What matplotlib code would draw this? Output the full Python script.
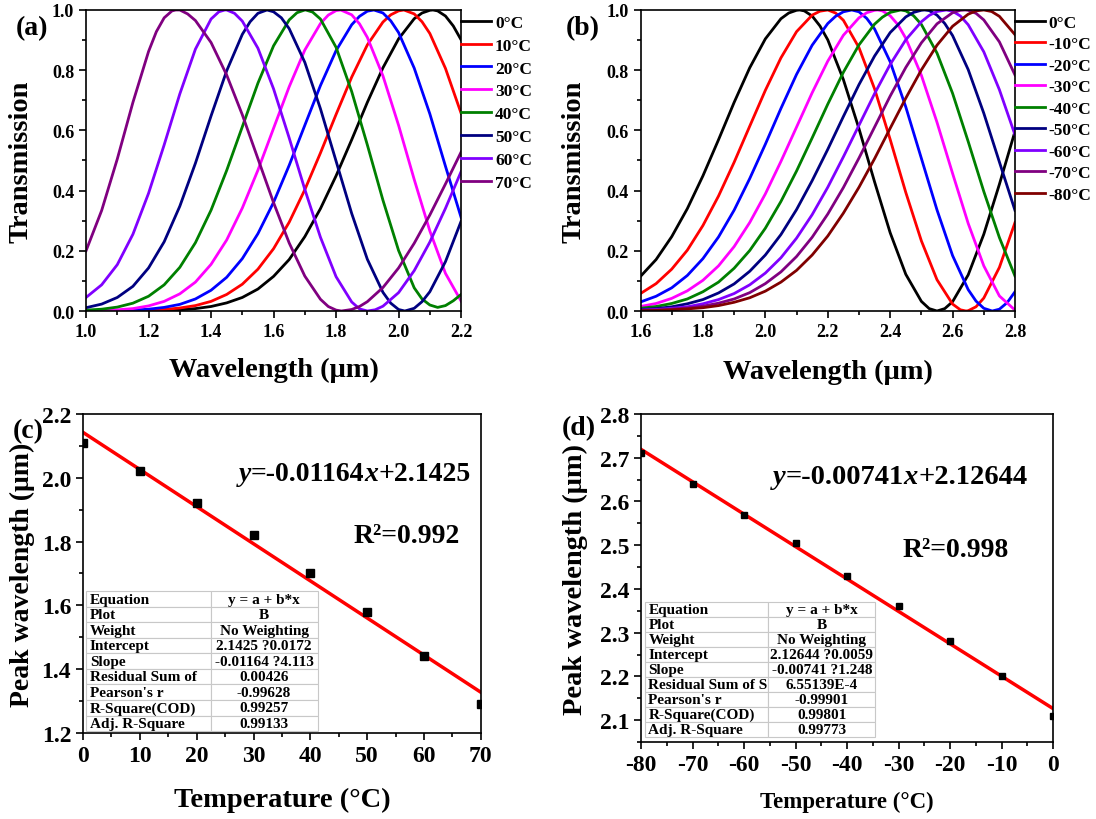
import numpy as np
import matplotlib.pyplot as plt
from matplotlib.ticker import MultipleLocator
from matplotlib.offsetbox import TextArea, HPacker, AnchoredOffsetbox
from matplotlib.table import Table

plt.rcParams['font.family'] = ['Liberation Serif', 'DejaVu Serif']
plt.rcParams['font.weight'] = 'bold'
plt.rcParams['axes.labelweight'] = 'bold'
plt.rcParams['axes.unicode_minus'] = False

# ---- (a) transmission spectra, heating ----
wl_a = [1.00, 1.05, 1.10, 1.15, 1.20, 1.25, 1.30, 1.35, 1.40, 1.45, 1.50, 1.55, 1.60,
        1.65, 1.70, 1.75, 1.80, 1.85, 1.90, 1.95, 2.00, 2.05, 2.10, 2.15, 2.20]
labels_a = ['0°C', '10°C', '20°C', '30°C', '40°C', '50°C', '60°C', '70°C']
t_a_0 = [0.000, 0.000, 0.000, 0.001, 0.001, 0.002, 0.004, 0.008, 0.015, 0.027, 0.045, 0.073, 0.115,
         0.171, 0.247, 0.340, 0.449, 0.569, 0.693, 0.808, 0.904, 0.971, 0.999, 0.980, 0.901]
t_a_10 = [0.000, 0.000, 0.001, 0.001, 0.002, 0.005, 0.010, 0.018, 0.032, 0.055, 0.089, 0.139, 0.207,
          0.295, 0.403, 0.525, 0.653, 0.777, 0.884, 0.960, 0.997, 0.987, 0.922, 0.806, 0.657]
t_a_20 = [0.000, 0.001, 0.001, 0.003, 0.006, 0.012, 0.022, 0.040, 0.069, 0.112, 0.174, 0.257, 0.361,
          0.484, 0.617, 0.749, 0.865, 0.951, 0.996, 0.990, 0.925, 0.807, 0.655, 0.481, 0.311]
t_a_30 = [0.001, 0.002, 0.004, 0.008, 0.017, 0.032, 0.057, 0.096, 0.155, 0.236, 0.342, 0.468, 0.607,
          0.745, 0.867, 0.955, 0.998, 0.984, 0.909, 0.781, 0.617, 0.437, 0.266, 0.125, 0.033]
t_a_40 = [0.003, 0.006, 0.013, 0.026, 0.049, 0.087, 0.145, 0.227, 0.335, 0.467, 0.612, 0.757, 0.881,
          0.967, 1.000, 0.970, 0.876, 0.729, 0.552, 0.368, 0.201, 0.077, 0.020, 0.018, 0.055]
t_a_50 = [0.011, 0.023, 0.045, 0.082, 0.143, 0.230, 0.348, 0.491, 0.648, 0.798, 0.919, 0.989, 0.994,
          0.938, 0.826, 0.672, 0.498, 0.324, 0.172, 0.062, 0.005, 0.009, 0.064, 0.164, 0.298]
t_a_60 = [0.045, 0.087, 0.154, 0.255, 0.391, 0.552, 0.721, 0.870, 0.970, 1.000, 0.963, 0.873, 0.738,
          0.575, 0.404, 0.245, 0.114, 0.030, 0.000, 0.016, 0.061, 0.134, 0.229, 0.341, 0.463]
t_a_70 = [0.200, 0.334, 0.505, 0.693, 0.862, 0.974, 1.000, 0.965, 0.892, 0.784, 0.652, 0.506, 0.360,
          0.226, 0.116, 0.039, 0.003, 0.005, 0.031, 0.078, 0.143, 0.225, 0.319, 0.422, 0.528]
# extra readings around peaks / dips (wavelength, transmission)
pk_a_0 = ([2.075, 2.11, 2.125, 2.175], [0.990, 1.0, 0.997, 0.947])
pk_a_10 = ([1.975, 2.017, 2.075], [0.984, 1.0, 0.961])
pk_a_20 = ([1.875, 1.921, 1.975], [0.979, 1.0, 0.964])
pk_a_30 = ([1.775, 1.815, 1.875], [0.983, 1.0, 0.954])
pk_a_40 = ([1.675, 1.703, 1.725, 2.075, 2.125, 2.175], [0.991, 1.0, 0.993, 0.040, 0.012, 0.034])
pk_a_50 = ([1.525, 1.579, 1.625, 1.975, 2.02, 2.075], [0.961, 1.0, 0.974, 0.026, 0.0, 0.031])
pk_a_60 = ([1.425, 1.444, 1.475, 1.875, 1.925], [0.994, 1.0, 0.989, 0.007, 0.004])
pk_a_70 = ([1.225, 1.275, 1.287, 1.325, 1.775, 1.817, 1.875],
           [0.928, 0.997, 1.0, 0.987, 0.015, 0.0, 0.015])

# ---- (b) transmission spectra, cooling ----
wl_b = [1.60, 1.65, 1.70, 1.75, 1.80, 1.85, 1.90, 1.95, 2.00, 2.05, 2.10, 2.15, 2.20,
        2.25, 2.30, 2.35, 2.40, 2.45, 2.50, 2.55, 2.60, 2.65, 2.70, 2.75, 2.80]
labels_b = ['0°C', '-10°C', '-20°C', '-30°C', '-40°C', '-50°C', '-60°C', '-70°C', '-80°C']
t_b_0 = [0.115, 0.171, 0.247, 0.340, 0.449, 0.569, 0.693, 0.808, 0.904, 0.971, 0.999, 0.980, 0.901,
         0.769, 0.606, 0.429, 0.260, 0.122, 0.032, 0.000, 0.031, 0.120, 0.255, 0.421, 0.597]
t_b_10 = [0.058, 0.091, 0.139, 0.202, 0.284, 0.382, 0.494, 0.614, 0.733, 0.841, 0.928, 0.983, 1.000,
          0.966, 0.875, 0.738, 0.570, 0.394, 0.233, 0.104, 0.023, 0.001, 0.043, 0.145, 0.294]
t_b_20 = [0.030, 0.049, 0.077, 0.118, 0.174, 0.246, 0.335, 0.440, 0.554, 0.673, 0.786, 0.883, 0.955,
          0.994, 0.994, 0.937, 0.828, 0.678, 0.507, 0.336, 0.184, 0.071, 0.009, 0.006, 0.064]
t_b_30 = [0.015, 0.025, 0.042, 0.067, 0.102, 0.150, 0.214, 0.294, 0.389, 0.497, 0.611, 0.725, 0.830,
          0.916, 0.974, 0.999, 0.981, 0.906, 0.783, 0.627, 0.457, 0.291, 0.150, 0.050, 0.003]
t_b_40 = [0.009, 0.015, 0.025, 0.040, 0.064, 0.096, 0.142, 0.201, 0.275, 0.364, 0.465, 0.575, 0.687,
          0.793, 0.884, 0.953, 0.992, 0.997, 0.952, 0.857, 0.723, 0.563, 0.397, 0.244, 0.116]
t_b_50 = [0.005, 0.008, 0.014, 0.024, 0.038, 0.060, 0.090, 0.132, 0.186, 0.254, 0.337, 0.433, 0.537,
          0.646, 0.752, 0.847, 0.925, 0.977, 0.999, 0.983, 0.915, 0.802, 0.657, 0.495, 0.334]
t_b_60 = [0.003, 0.005, 0.009, 0.014, 0.024, 0.038, 0.058, 0.087, 0.126, 0.177, 0.242, 0.320, 0.411,
          0.512, 0.617, 0.722, 0.819, 0.901, 0.961, 0.995, 0.996, 0.951, 0.861, 0.735, 0.585]
t_b_70 = [0.002, 0.003, 0.006, 0.010, 0.016, 0.026, 0.040, 0.061, 0.091, 0.130, 0.181, 0.245, 0.322,
          0.410, 0.508, 0.611, 0.714, 0.809, 0.891, 0.954, 0.991, 0.999, 0.967, 0.894, 0.784]
t_b_80 = [0.001, 0.002, 0.004, 0.007, 0.011, 0.018, 0.029, 0.044, 0.066, 0.096, 0.135, 0.186, 0.249,
          0.325, 0.411, 0.506, 0.607, 0.707, 0.801, 0.883, 0.946, 0.986, 1.000, 0.979, 0.918]
pk_b_0 = ([2.075, 2.11, 2.125, 2.175, 2.525, 2.575], [0.990, 1.0, 0.997, 0.947, 0.008, 0.008])
pk_b_10 = ([2.175, 2.225, 2.625, 2.643, 2.675], [0.996, 0.990, 0.004, 0.0, 0.014])
pk_b_20 = ([2.225, 2.277, 2.325, 2.675, 2.727, 2.775], [0.979, 1.0, 0.972, 0.033, 0.0, 0.028])
pk_b_30 = ([2.325, 2.36, 2.375, 2.425], [0.991, 1.0, 0.997, 0.951])
pk_b_40 = ([2.375, 2.434, 2.475], [0.976, 1.0, 0.981])
pk_b_50 = ([2.475, 2.51, 2.525, 2.575], [0.992, 1.0, 0.998, 0.955])
pk_b_60 = ([2.525, 2.58, 2.625], [0.982, 1.0, 0.980])
pk_b_70 = ([2.625, 2.64, 2.675], [0.999, 1.0, 0.989])
pk_b_80 = ([2.675, 2.725], [0.997, 0.995])

colors_a = ['black', 'red', 'blue', 'magenta', 'green', 'navy', '#8000ff', 'purple']
colors_b = ['black', 'red', 'blue', 'magenta', 'green', 'navy', '#8000ff', 'purple', 'maroon']

# ---- (c)/(d) peak wavelength vs temperature ----
temp_c = [0, 10, 20, 30, 40, 50, 60, 70]
peak_c = [2.11, 2.02, 1.92, 1.82, 1.70, 1.58, 1.44, 1.29]
temp_d = [-80, -70, -60, -50, -40, -30, -20, -10, 0]
peak_d = [2.71, 2.64, 2.57, 2.505, 2.43, 2.36, 2.28, 2.20, 2.11]

eq_c = ('-0.01164', '2.1425')
eq_d = ('-0.00741', '2.12644')
r2_c = 'R²=0.992'
r2_d = 'R²=0.998'

table_c = [["Equation", "y = a + b*x"], ["Plot", "B"], ["Weight", "No Weighting"],
           ["Intercept", "2.1425 ?0.0172"], ["Slope", "-0.01164 ?4.113"],
           ["Residual Sum of", "0.00426"], ["Pearson's r", "-0.99628"],
           ["R-Square(COD)", "0.99257"], ["Adj. R-Square", "0.99133"]]
table_d = [["Equation", "y = a + b*x"], ["Plot", "B"], ["Weight", "No Weighting"],
           ["Intercept", "2.12644 ?0.0059"], ["Slope", "-0.00741 ?1.248"],
           ["Residual Sum of S", "6.55139E-4"], ["Pearson's r", "-0.99901"],
           ["R-Square(COD)", "0.99801"], ["Adj. R-Square", "0.99773"]]


def merged(wl, t, pk):
    x = np.concatenate([wl, pk[0]])
    y = np.concatenate([t, pk[1]])
    o = np.argsort(x)
    return x[o], y[o]


def style_axes(ax, size):
    ax.tick_params(which='both', direction='out', top=False, right=False,
                   labelsize=size, width=1.2)
    ax.tick_params(which='major', length=5)
    ax.tick_params(which='minor', length=3)
    for s in ax.spines.values():
        s.set_linewidth(1.2)


def add_table(ax, rows, bbox, split):
    tb = Table(ax, bbox=bbox)
    h = 1.0 / len(rows)
    for i, (k, v) in enumerate(rows):
        c0 = tb.add_cell(i, 0, width=split, height=h, text=k, loc='left')
        c1 = tb.add_cell(i, 1, width=1 - split, height=h, text=v, loc='center')
        c0.PAD = 0.03
        for c in (c0, c1):
            c.set_edgecolor('#c8c8c8')
            c.set_linewidth(0.8)
    tb.auto_set_font_size(False)
    tb.set_fontsize(11)
    tb.set_zorder(5)
    ax.add_table(tb)


def add_equation(ax, eq, xy, size):
    tp = dict(fontsize=size, fontweight='bold')
    ti = dict(fontsize=size, fontweight='bold', style='italic')
    parts = [TextArea('y', textprops=ti), TextArea('=' + eq[0], textprops=tp),
             TextArea('x', textprops=ti), TextArea('+' + eq[1], textprops=tp)]
    box = HPacker(children=parts, pad=0, sep=0, align='baseline')
    anch = AnchoredOffsetbox(loc='center left', child=box, frameon=False, pad=0, borderpad=0,
                             bbox_to_anchor=xy, bbox_transform=ax.transAxes)
    ax.add_artist(anch)


fig = plt.figure(figsize=(10.96, 8.2), dpi=100)
ax_a = fig.add_axes([0.0785, 0.6195, 0.3422, 0.3671])
ax_b = fig.add_axes([0.5844, 0.6195, 0.3417, 0.3671])
ax_c = fig.add_axes([0.0757, 0.1049, 0.3631, 0.3890])
ax_d = fig.add_axes([0.5849, 0.0939, 0.3759, 0.4000])

# (a)
series_a = [(t_a_0, pk_a_0), (t_a_10, pk_a_10), (t_a_20, pk_a_20), (t_a_30, pk_a_30),
            (t_a_40, pk_a_40), (t_a_50, pk_a_50), (t_a_60, pk_a_60), (t_a_70, pk_a_70)]
for i, (t, pk) in enumerate(series_a):
    x, y = merged(wl_a, t, pk)
    ax_a.plot(x, y, color=colors_a[i], lw=2.0, label=labels_a[i])
ax_a.set_xlim(1.0, 2.2)
ax_a.set_ylim(0, 1.0)
ax_a.xaxis.set_major_locator(MultipleLocator(0.2))
ax_a.xaxis.set_minor_locator(MultipleLocator(0.1))
ax_a.yaxis.set_major_locator(MultipleLocator(0.2))
ax_a.yaxis.set_minor_locator(MultipleLocator(0.1))
ax_a.set_xlabel('Wavelength (μm)', fontsize=20.5)
ax_a.set_ylabel('Transmission', fontsize=20.5)
ax_a.xaxis.set_label_coords(0.5, -0.153)
ax_a.yaxis.set_label_coords(-0.141, 0.5)
style_axes(ax_a, 13)
ax_a.legend(loc='upper left', bbox_to_anchor=(1.0, 0.985), frameon=False, fontsize=12.5,
            handlelength=1.72, handletextpad=0.23, labelspacing=0.39, borderaxespad=0, borderpad=0)

# (b)
series_b = [(t_b_0, pk_b_0), (t_b_10, pk_b_10), (t_b_20, pk_b_20), (t_b_30, pk_b_30),
            (t_b_40, pk_b_40), (t_b_50, pk_b_50), (t_b_60, pk_b_60), (t_b_70, pk_b_70),
            (t_b_80, pk_b_80)]
for i, (t, pk) in enumerate(series_b):
    x, y = merged(wl_b, t, pk)
    ax_b.plot(x, y, color=colors_b[i], lw=2.0, label=labels_b[i])
ax_b.set_xlim(1.6, 2.8)
ax_b.set_ylim(0, 1.0)
ax_b.xaxis.set_major_locator(MultipleLocator(0.2))
ax_b.xaxis.set_minor_locator(MultipleLocator(0.1))
ax_b.yaxis.set_major_locator(MultipleLocator(0.2))
ax_b.yaxis.set_minor_locator(MultipleLocator(0.1))
ax_b.set_xlabel('Wavelength (μm)', fontsize=20.5)
ax_b.set_ylabel('Transmission', fontsize=20.5)
ax_b.xaxis.set_label_coords(0.5, -0.16)
ax_b.yaxis.set_label_coords(-0.143, 0.5)
style_axes(ax_b, 13)
ax_b.legend(loc='upper left', bbox_to_anchor=(1.0, 0.985), frameon=False, fontsize=12.5,
            handlelength=1.72, handletextpad=0.23, labelspacing=0.31, borderaxespad=0, borderpad=0)

# (c)
fit_c = np.polyfit(temp_c, peak_c, 1)
xc = np.array([temp_c[0], temp_c[-1]])
ax_c.plot(xc, np.polyval(fit_c, xc), color='red', lw=2.5, zorder=2)
ax_c.plot(temp_c, peak_c, 's', color='black', ms=5.5, zorder=3)
ax_c.set_xlim(0, 70)
ax_c.set_ylim(1.2, 2.2)
ax_c.xaxis.set_major_locator(MultipleLocator(10))
ax_c.xaxis.set_minor_locator(MultipleLocator(5))
ax_c.yaxis.set_major_locator(MultipleLocator(0.2))
ax_c.yaxis.set_minor_locator(MultipleLocator(0.1))
ax_c.set_xlabel('Temperature (°C)', fontsize=20.5)
ax_c.set_ylabel('Peak wavelength (μm)', fontsize=20)
ax_c.xaxis.set_label_coords(0.5, -0.169)
ax_c.yaxis.set_label_coords(-0.121, 0.5)
style_axes(ax_c, 17)
add_equation(ax_c, eq_c, (0.391, 0.8125), 20)
ax_c.text(0.681, 0.619, r2_c, transform=ax_c.transAxes, fontsize=20, va='center')
add_table(ax_c, table_c, [0.0075, 0.006, 0.582, 0.438], 0.538)

# (d)
fit_d = np.polyfit(temp_d, peak_d, 1)
xd = np.array([temp_d[0], temp_d[-1]])
ax_d.plot(xd, np.polyval(fit_d, xd), color='red', lw=2.5, zorder=2)
ax_d.plot(temp_d, peak_d, 's', color='black', ms=5, zorder=3)
ax_d.set_xlim(-80, 0)
ax_d.set_ylim(2.05, 2.8)
ax_d.xaxis.set_major_locator(MultipleLocator(10))
ax_d.xaxis.set_minor_locator(MultipleLocator(5))
ax_d.yaxis.set_major_locator(MultipleLocator(0.1))
ax_d.yaxis.set_minor_locator(MultipleLocator(0.05))
ax_d.set_xlabel('Temperature (°C)', fontsize=16.5)
ax_d.set_ylabel('Peak wavelength (μm)', fontsize=20.5)
ax_d.xaxis.set_label_coords(0.5, -0.149)
ax_d.yaxis.set_label_coords(-0.129, 0.5)
style_axes(ax_d, 17)
add_equation(ax_d, eq_d, (0.32, 0.808), 20.5)
ax_d.text(0.635, 0.588, r2_d, transform=ax_d.transAxes, fontsize=20, va='center')
add_table(ax_d, table_d, [0.009, 0.015, 0.56, 0.412], 0.535)

# panel letters
fig.text(0.0144, 0.9646, '(a)', fontsize=20, va='center')
fig.text(0.5162, 0.9646, '(b)', fontsize=20, va='center')
fig.text(0.0112, 0.4732, '(c)', fontsize=20, va='center')
fig.text(0.5128, 0.4768, '(d)', fontsize=20, va='center')

fig.savefig('out.png', dpi=100)
